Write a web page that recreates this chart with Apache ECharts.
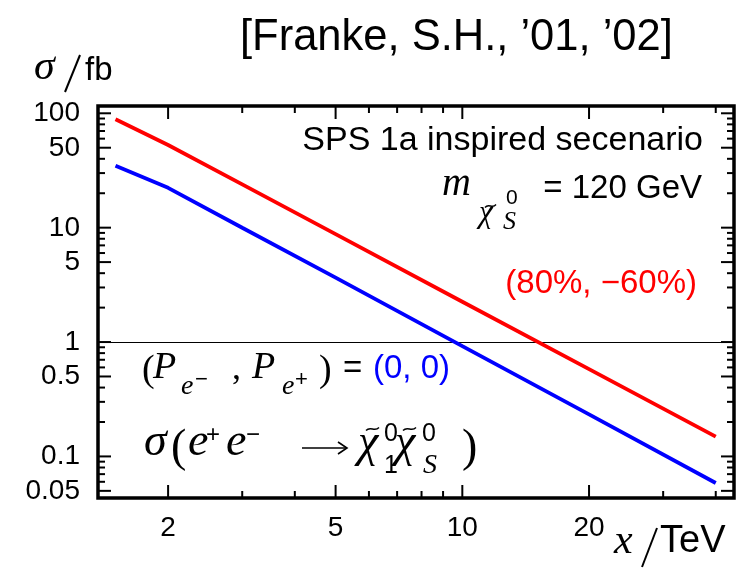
<!DOCTYPE html>
<html>
<head>
<meta charset="utf-8">
<script src="https://cdn.jsdelivr.net/npm/echarts@6/dist/echarts.min.js"></script>
<style>html,body{margin:0;padding:0;background:#fff;}#c{width:751px;height:568px;}</style>
</head>
<body>
<div id="c"></div>
<script>
// ---- data ----
const ENERGY = [1.5, 2, 3, 5, 10, 20, 40];               // x / TeV
const SIGMA_POL = [88.6, 52.8, 23.9, 8.77, 2.25, 0.579, 0.149];   // (80%, -60%)
const SIGMA_UNPOL = [34.7, 22.3, 9.98, 3.66, 0.92, 0.233, 0.0586]; // (0, 0)
const X_MAJOR = [2, 5, 10, 20];
const X_LABELS = ['2', '5', '10', '20'];
const X_MINOR = [3, 4, 6, 7, 8, 9, 30, 40];
const Y_MAJOR = [0.05, 0.1, 0.5, 1, 5, 10, 50, 100];
const Y_LABELS = ['0.05', '0.1', '0.5', '1', '5', '10', '50', '100'];
const Y_MINOR = [0.06, 0.07, 0.08, 0.09, 0.2, 0.3, 0.4, 0.6, 0.7, 0.8, 0.9,
                 2, 3, 4, 6, 7, 8, 9, 20, 30, 40, 60, 70, 80, 90];
const X_MIN = 1.363, X_MAX = 44.2, Y_MIN = 0.0433, Y_MAX = 115.8;

const SANS = "'Liberation Sans', Arial, sans-serif";
const SERIF = "'Liberation Serif', 'DejaVu Serif', serif";

function T(text, x, base, fs, opt) {
  opt = opt || {};
  const fam = opt.serif ? SERIF : SANS;
  const font = (opt.italic ? 'italic ' : '') + fs + 'px ' + fam;
  const al = opt.align || 'left';
  return {
    type: 'text', x: x, y: base - 0.35 * fs, z: 100,
    style: { text: text, x: 0, y: 0, font: font, fill: opt.color || '#000',
      align: al, textAlign: al, verticalAlign: 'middle', textVerticalAlign: 'middle' }
  };
}
function L(x1, y1, x2, y2, w) {
  return { type: 'line', z: 100, shape: { x1: x1, y1: y1, x2: x2, y2: y2 }, style: { stroke: '#000', lineWidth: w || 2 } };
}
function tilde(x, y, w) {
  return { type: 'bezierCurve', z: 100,
    shape: { x1: x, y1: y + 1.5, cpx1: x + w * 0.35, cpy1: y - 3.5, cpx2: x + w * 0.65, cpy2: y + 3.5, x2: x + w, y2: y - 1.5 },
    style: { stroke: '#000', lineWidth: 1.4, fill: null } };
}
function arrow(x1, x2, y) {
  return [
    L(x1, y, x2, y, 1.6),
    { type: 'polyline', z: 100, shape: { points: [[x2 - 9, y - 6], [x2, y], [x2 - 9, y + 6]] },
      style: { stroke: '#000', lineWidth: 1.6, fill: null } }
  ];
}

const texts = [
  T('[Franke, S.H., \u201901, \u201902]', 240, 53, 43.5),
  T('\u03c3', 34, 83, 42, { serif: true, italic: true }),
  L(65, 92, 80, 55, 2),
  T('fb', 85, 82, 33),
  T('x', 614, 557, 42, { serif: true, italic: true }),
  L(642, 567, 657, 528, 2),
  T('TeV', 660, 555, 38),
  T('SPS 1a inspired secenario', 703, 153, 34, { align: 'right' }),
  // m_{chi_S}
  T('m', 442, 198, 40, { serif: true, italic: true }),
  T('\u03c7', 479, 225, 31, { serif: true, italic: true }),
  tilde(485, 206, 11),
  T('0', 506, 206, 21),
  T('S', 503, 231, 26, { serif: true, italic: true }),
  T('= 120 GeV', 702, 200, 33, { align: 'right' }),
  T('(80%, \u221260%)', 697, 295, 33, { align: 'right', color: '#ff0000' }),
  // (P_e-, P_e+) = (0, 0)
  T('(', 142, 384, 38, { serif: true }),
  T('P', 153, 381, 38, { serif: true, italic: true }),
  T('e', 181, 396, 28, { serif: true, italic: true }),
  T('\u2212', 195, 388, 22),
  T(',', 232, 382, 36, { serif: true }),
  T('P', 252, 381, 38, { serif: true, italic: true }),
  T('e', 282, 396, 28, { serif: true, italic: true }),
  T('+', 295, 388, 22),
  T(')', 319, 384, 38, { serif: true }),
  T('=', 343, 380, 33),
  T('(0, 0)', 373, 380, 33, { color: '#0000ff' }),
  // sigma(e+e- -> chi chi)
  T('\u03c3', 144, 459, 46, { serif: true, italic: true }),
  T('(', 171, 465, 46, { serif: true }),
  T('e', 188, 459, 46, { serif: true, italic: true }),
  T('+', 206, 444, 24),
  T('e', 226, 459, 46, { serif: true, italic: true }),
  T('\u2212', 246, 444, 24)
].concat(arrow(302, 347, 448)).concat([
  T('\u03c7', 358, 460, 46, { serif: true, italic: true }),
  tilde(366, 429, 13),
  T('0', 384, 443, 25),
  T('1', 384, 475, 25),
  T('\u03c7', 395, 460, 46, { serif: true, italic: true }),
  tilde(403, 429, 13),
  T('0', 422, 443, 25),
  T('S', 423, 475, 28, { serif: true, italic: true }),
  T(')', 462, 465, 46, { serif: true })
]);

const chart = echarts.init(document.getElementById('c'), null, { renderer: 'canvas' });
chart.setOption({
  animation: false,
  backgroundColor: '#fff',
  grid: { left: 98, right: 17, top: 106, bottom: 70, show: true, borderColor: '#000', borderWidth: 3.5, backgroundColor: 'transparent' },
  xAxis: { type: 'log', logBase: 10, min: X_MIN, max: X_MAX,
    axisLine: { show: false }, axisTick: { show: false }, axisLabel: { show: false }, splitLine: { show: false } },
  yAxis: { type: 'log', logBase: 10, min: Y_MIN, max: Y_MAX,
    axisLine: { show: false }, axisTick: { show: false }, axisLabel: { show: false }, splitLine: { show: false } },
  series: [
    { name: '(80%, -60%)', type: 'line', data: ENERGY.map((x, i) => [x, SIGMA_POL[i]]),
      showSymbol: false, symbol: 'none', lineStyle: { color: '#ff0000', width: 3.8 }, z: 5,
      markLine: { silent: true, symbol: 'none', label: { show: false }, animation: false,
        lineStyle: { color: '#000', width: 1, type: 'solid' }, data: [{ yAxis: 1 }] } },
    { name: '(0, 0)', type: 'line', data: ENERGY.map((x, i) => [x, SIGMA_UNPOL[i]]),
      showSymbol: false, symbol: 'none', lineStyle: { color: '#0000ff', width: 3.8 }, z: 5 }
  ]
});

// ticks and tick labels placed through the axes' own scales
const toPx = (x, y) => chart.convertToPixel({ xAxisIndex: 0, yAxisIndex: 0 }, [x, y]);
const lb = toPx(X_MIN, Y_MIN), rt = toPx(X_MAX, Y_MAX);
const gl = lb[0], gb = lb[1], gr = rt[0], gt = rt[1];
const ticks = [];
function xTick(v, major, label) {
  const px = toPx(v, Y_MIN)[0];
  const len = major ? 13 : 7;
  ticks.push({ type: 'line', z: 100, shape: { x1: px, y1: gb, x2: px, y2: gb - len }, style: { stroke: '#000', lineWidth: 2 } });
  ticks.push({ type: 'line', z: 100, shape: { x1: px, y1: gt, x2: px, y2: gt + len }, style: { stroke: '#000', lineWidth: 2 } });
  if (label) ticks.push(T(label, px, gb + 40, 28, { align: 'center' }));
}
function yTick(v, major, label) {
  const py = toPx(X_MIN, v)[1];
  const len = major ? 13 : 7;
  ticks.push({ type: 'line', z: 100, shape: { x1: gl, y1: py, x2: gl + len, y2: py }, style: { stroke: '#000', lineWidth: 2 } });
  ticks.push({ type: 'line', z: 100, shape: { x1: gr, y1: py, x2: gr - len, y2: py }, style: { stroke: '#000', lineWidth: 2 } });
  if (label) ticks.push(T(label, gl - 18, py + 10, 28, { align: 'right' }));
}
X_MAJOR.forEach((v, i) => xTick(v, true, X_LABELS[i]));
X_MINOR.forEach(v => xTick(v, false, null));
Y_MAJOR.forEach((v, i) => yTick(v, true, Y_LABELS[i]));
Y_MINOR.forEach(v => yTick(v, false, null));

chart.setOption({ graphic: { elements: texts.concat(ticks) } });
</script>
</body>
</html>
